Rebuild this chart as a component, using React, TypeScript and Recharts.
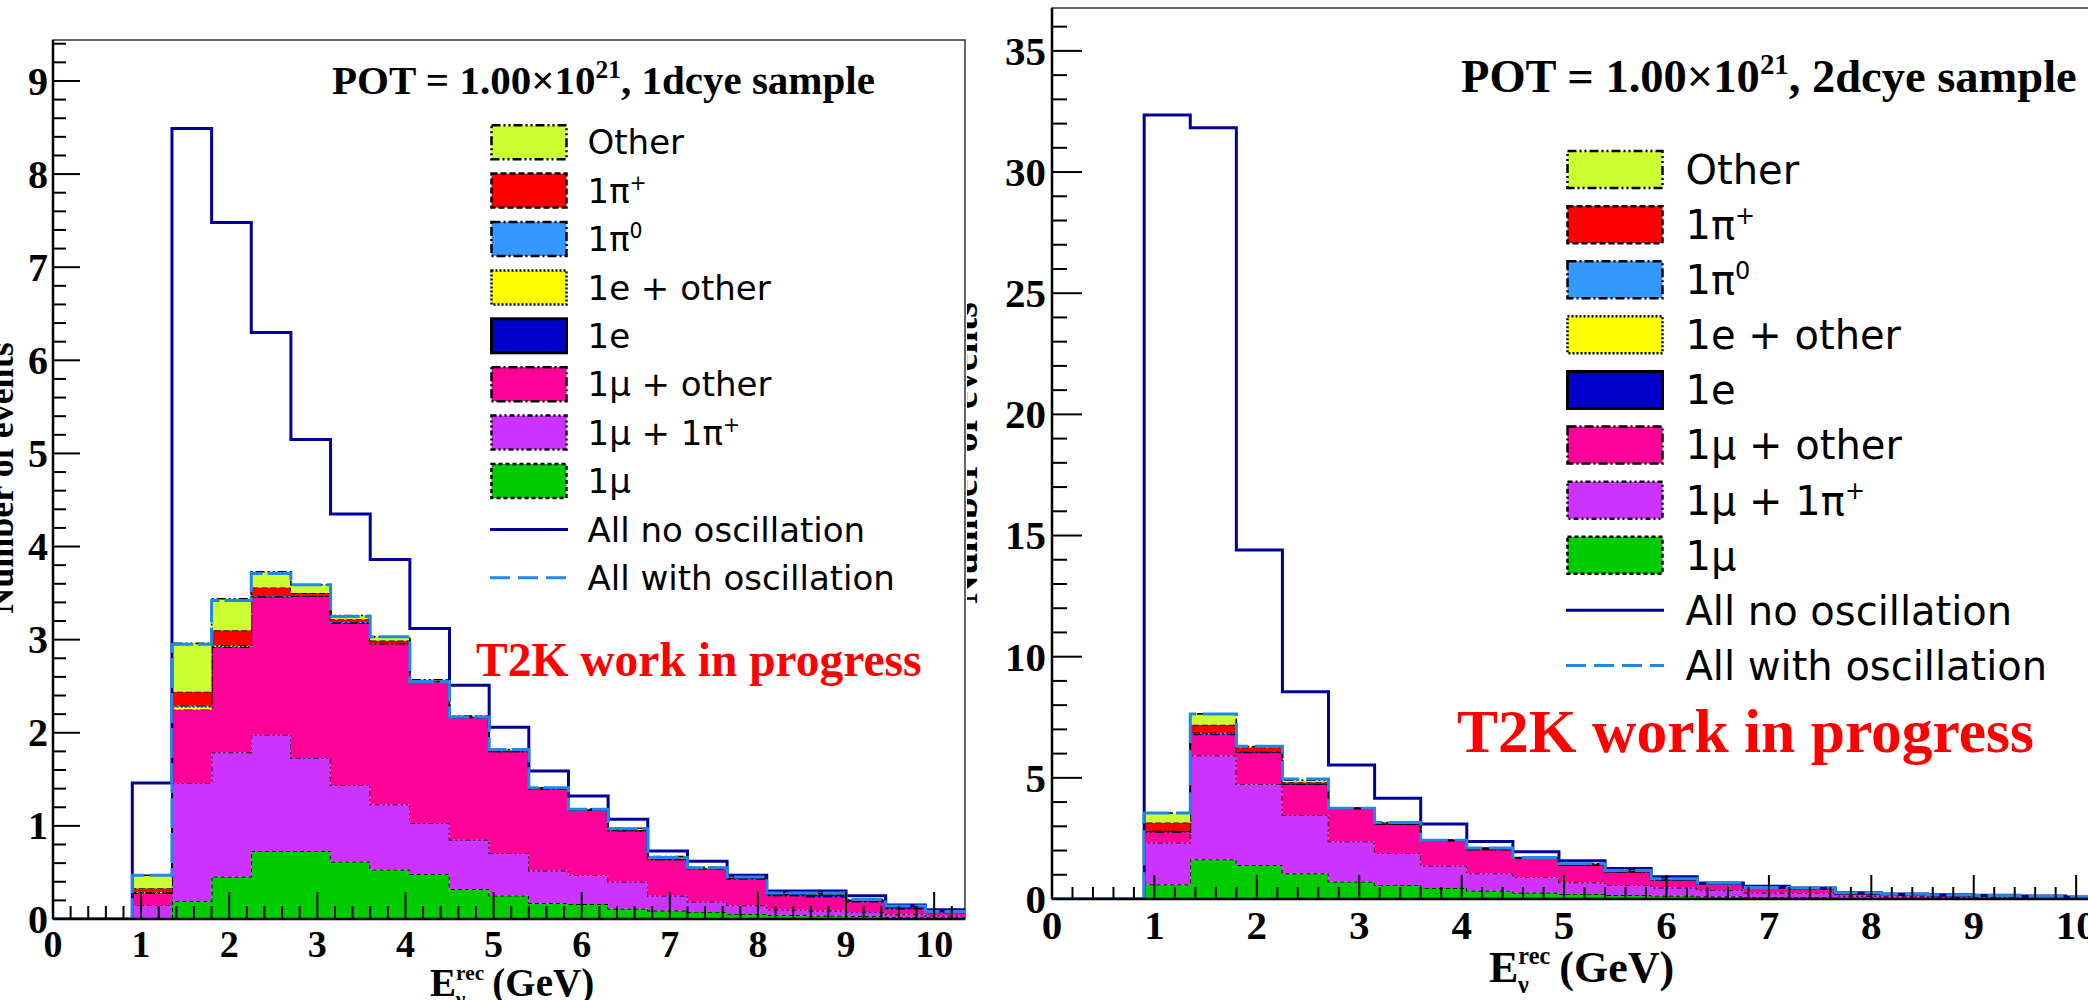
import React from "react";
import { ComposedChart, Area, Line, XAxis, YAxis, ReferenceArea, Legend } from "recharts";

// bin edges in GeV (0.45 GeV bins)
const binEdges = [0, 0.45, 0.9, 1.35, 1.8, 2.25, 2.7, 3.15, 3.6, 4.05, 4.5, 4.95, 5.4, 5.85, 6.3, 6.75, 7.2, 7.65, 8.1, 8.55, 9.0, 9.45, 9.9, 10.35];

// 1dcye sample (left)
const leftMu = [0, 0, 0.01, 0.19, 0.455, 0.73, 0.73, 0.615, 0.53, 0.48, 0.32, 0.25, 0.17, 0.16, 0.11, 0.09, 0.075, 0.055, 0.04, 0.035, 0.03, 0.02, 0.015];
const leftMu1Pip = [0, 0, 0.14, 1.27, 1.335, 1.25, 1.0, 0.825, 0.7, 0.55, 0.53, 0.46, 0.35, 0.31, 0.29, 0.16, 0.11, 0.09, 0.06, 0.055, 0.045, 0.03, 0.02];
const leftMuOther = [0, 0, 0.13, 0.79, 1.13, 1.48, 1.74, 1.74, 1.73, 1.52, 1.315, 1.09, 0.88, 0.7, 0.55, 0.39, 0.355, 0.285, 0.15, 0.15, 0.11, 0.06, 0.035];
const leftE = [0, 0, 0, 0, 0, 0, 0, 0, 0, 0, 0, 0, 0, 0, 0, 0, 0, 0.01, 0.02, 0.02, 0.015, 0.015, 0.01];
const leftEOther = [0, 0, 0.01, 0.03, 0.01, 0, 0, 0, 0, 0, 0, 0, 0, 0, 0, 0, 0, 0, 0, 0, 0, 0, 0];
const leftPi0 = [0, 0, 0, 0.01, 0.01, 0.01, 0, 0.01, 0, 0, 0, 0, 0, 0, 0, 0, 0, 0, 0, 0, 0, 0, 0];
const leftPip = [0, 0, 0.04, 0.15, 0.16, 0.09, 0.03, 0.03, 0.03, 0.01, 0.01, 0.01, 0.005, 0.005, 0.005, 0.01, 0.005, 0.005, 0.005, 0.005, 0.005, 0.005, 0.005];
const leftOther = [0, 0, 0.14, 0.52, 0.34, 0.17, 0.09, 0.04, 0.04, 0.01, 0.005, 0.01, 0.005, 0.005, 0.02, 0.02, 0.01, 0.01, 0.01, 0.01, 0.005, 0.005, 0.005];
const leftNoOsc = [0, 0, 1.46, 8.49, 7.48, 6.3, 5.15, 4.35, 3.86, 3.12, 2.51, 2.06, 1.59, 1.32, 1.07, 0.73, 0.62, 0.47, 0.3, 0.3, 0.25, 0.15, 0.1];
const leftOsc = [0, 0, 0.47, 2.95, 3.42, 3.71, 3.59, 3.25, 3.03, 2.55, 2.17, 1.82, 1.41, 1.18, 0.97, 0.66, 0.55, 0.45, 0.28, 0.28, 0.21, 0.14, 0.08];

// 2dcye sample (right)
const rightMu = [0, 0, 0.6, 1.63, 1.39, 1.05, 0.71, 0.58, 0.45, 0.34, 0.26, 0.21, 0.16, 0.13, 0.1, 0.08, 0.08, 0.05, 0.04, 0.03, 0.03, 0.02, 0.015];
const rightMu1Pip = [0, 0, 1.72, 4.29, 3.35, 2.42, 1.66, 1.32, 0.92, 0.71, 0.64, 0.47, 0.42, 0.34, 0.27, 0.18, 0.16, 0.08, 0.06, 0.05, 0.04, 0.03, 0.025];
const rightMuOther = [0, 0, 0.44, 0.87, 1.31, 1.27, 1.37, 1.2, 1.05, 1.0, 0.78, 0.72, 0.55, 0.32, 0.26, 0.21, 0.18, 0.09, 0.07, 0.06, 0.05, 0.03, 0.02];
const rightE = [0, 0, 0.05, 0.04, 0.02, 0.02, 0, 0, 0, 0, 0, 0, 0, 0, 0, 0, 0, 0, 0, 0, 0, 0, 0];
const rightEOther = [0, 0, 0.01, 0.02, 0.01, 0, 0, 0, 0, 0, 0, 0, 0, 0, 0, 0, 0, 0, 0, 0, 0, 0, 0];
const rightPi0 = [0, 0, 0, 0.01, 0, 0, 0, 0, 0, 0, 0, 0, 0, 0, 0, 0, 0, 0, 0, 0, 0, 0, 0];
const rightPip = [0, 0, 0.34, 0.33, 0.17, 0.06, 0, 0.03, 0, 0.03, 0.02, 0.03, 0.03, 0.03, 0.02, 0, 0.02, 0.02, 0.02, 0.02, 0.01, 0.01, 0.01];
const rightOther = [0, 0, 0.39, 0.45, 0.04, 0.08, 0, 0.03, 0, 0.02, 0.01, 0.02, 0.02, 0.02, 0.01, 0, 0.01, 0.02, 0.01, 0.01, 0.01, 0.01, 0];
const rightNoOsc = [0, 0, 32.35, 31.83, 14.4, 8.55, 5.53, 4.16, 3.1, 2.37, 1.95, 1.58, 1.26, 0.92, 0.66, 0.53, 0.45, 0.26, 0.21, 0.18, 0.15, 0.12, 0.08];
const rightOsc = [0, 0, 3.55, 7.63, 6.3, 4.95, 3.74, 3.16, 2.42, 2.1, 1.71, 1.45, 1.18, 0.84, 0.66, 0.47, 0.45, 0.26, 0.2, 0.17, 0.14, 0.1, 0.07];

const xLabels = [0, 1, 2, 3, 4, 5, 6, 7, 8, 9, 10];
const leftYLabels = [0, 1, 2, 3, 4, 5, 6, 7, 8, 9];
const rightYLabels = [0, 5, 10, 15, 20, 25, 30, 35];

const SERIF = "'Liberation Serif', 'Times New Roman', serif";
const SANS = "'DejaVu Sans', sans-serif";
const NAVY = "#00009a";
const LIGHTBLUE = "#1e87e8";
const X_MAX = 10.35;

// stack order: bottom first
const stack = [
  { key: "mu", label: "1μ", fill: "#00cc00", dash: "4 3" },
  { key: "mu1pip", label: "1μ + 1π", sup: "+", fill: "#cc33ff", dash: "5 3 2 3 2 3" },
  { key: "muOther", label: "1μ + other", fill: "#ff0099", dash: "9 3 2 3" },
  { key: "e", label: "1e", fill: "#0000cc", dash: "" },
  { key: "eOther", label: "1e + other", fill: "#ffff00", dash: "2 2" },
  { key: "pi0", label: "1π", sup: "0", fill: "#3399ff", dash: "9 3 2 3" },
  { key: "pip", label: "1π", sup: "+", fill: "#ff0000", dash: "6 3" },
  { key: "other", label: "Other", fill: "#ccff33", dash: "9 3 2 3 2 3" },
];

const steps = (max: number, step: number) => {
  const out: number[] = [];
  for (let v = 0; v <= max + 1e-9; v += step) out.push(Math.round(v * 100) / 100);
  return out;
};

const buildRows = (series: Record<string, number[]>) =>
  binEdges.map((x, i) => {
    const row: Record<string, number> = { x };
    Object.keys(series).forEach((k) => {
      row[k] = series[k][Math.min(i, series[k].length - 1)];
    });
    return row;
  });

const leftRows = buildRows({
  mu: leftMu, mu1pip: leftMu1Pip, muOther: leftMuOther, e: leftE, eOther: leftEOther,
  pi0: leftPi0, pip: leftPip, other: leftOther, noOsc: leftNoOsc, osc: leftOsc,
});
const rightRows = buildRows({
  mu: rightMu, mu1pip: rightMu1Pip, muOther: rightMuOther, e: rightE, eOther: rightEOther,
  pi0: rightPi0, pip: rightPip, other: rightOther, noOsc: rightNoOsc, osc: rightOsc,
});

type Cfg = {
  left: number; width: number; chartWidth: number; z: number;
  plotLeft: number; plotTop: number; plotBottom: number; rightMargin: number;
  yMax: number; yLabels: number[]; yTicks: number[];
  rows: Record<string, number>[];
  yMaj: number; yMin: number; xMaj: number; xMin: number;
  yTickFont: number; xTickFont: number; xLabelDy: number; yLabelGap: number;
  oscDash: string;
  sample: string; titleX: number; titleY: number; titleFont: number;
  t2kX: number; t2kY: number; t2kFont: number;
  legX: number; legTop: number; boxW: number; boxH: number; legGap: number; legRow: number; legFont: number;
  xTitleX: number; xTitleY: number; xTitleFont: number;
  yTitleX: number; yTitleY: number; yTitleFont: number;
};

const leftCfg: Cfg = {
  left: 0, width: 967, chartWidth: 967, z: 2,
  plotLeft: 53, plotTop: 40, plotBottom: 919, rightMargin: 2,
  yMax: 9.44, yLabels: leftYLabels, yTicks: steps(9.4, 0.2), rows: leftRows,
  yMaj: 27, yMin: 13, xMaj: 27, xMin: 13,
  yTickFont: 40, xTickFont: 38, xLabelDy: 38, yLabelGap: 5,
  oscDash: "30 5",
  sample: "1dcye", titleX: 332, titleY: 94, titleFont: 41,
  t2kX: 476, t2kY: 676, t2kFont: 47.5,
  legX: 490, legTop: 118, boxW: 78, boxH: 34, legGap: 19.5, legRow: 48.4, legFont: 34,
  xTitleX: 430, xTitleY: 996, xTitleFont: 39,
  yTitleX: 13, yTitleY: 478, yTitleFont: 36,
};

const rightCfg: Cfg = {
  left: 967, width: 1121, chartWidth: 1150, z: 1,
  plotLeft: 85, plotTop: 8, plotBottom: 899, rightMargin: 5,
  yMax: 36.77, yLabels: rightYLabels, yTicks: steps(36, 1), rows: rightRows,
  yMaj: 30, yMin: 15, xMaj: 24, xMin: 12,
  yTickFont: 41, xTickFont: 41, xLabelDy: 40, yLabelGap: 6,
  oscDash: "35 7",
  sample: "2dcye", titleX: 494, titleY: 92, titleFont: 46.5,
  t2kX: 490, t2kY: 752, t2kFont: 61.5,
  legX: 599, legTop: 141.5, boxW: 98, boxH: 37, legGap: 21.5, legRow: 55.1, legFont: 40,
  xTitleX: 522, xTitleY: 982, xTitleFont: 44,
  yTitleX: 10, yTitleY: 453, yTitleFont: 40,
};

const isIn = (list: number[], v: number) => list.some((m) => Math.abs(m - v) < 1e-6);

const legendItems = [
  ...stack.slice().reverse(),
  { key: "noOsc", label: "All no oscillation", line: NAVY },
  { key: "osc", label: "All with oscillation", line: LIGHTBLUE, lineDash: "20 8" },
];

const LegendBox = ({ cfg }: { cfg: Cfg }) => {
  const fs = cfg.legFont;
  return (
    <svg width={cfg.boxW + cfg.legGap + 420} height={cfg.legRow * legendItems.length} style={{ overflow: "visible" }}>
      {legendItems.map((it: any, i) => {
        const cy = cfg.legRow / 2 + i * cfg.legRow;
        return (
          <g key={it.key}>
            {it.line ? (
              <line x1={0} x2={cfg.boxW} y1={cy} y2={cy} stroke={it.line} strokeWidth={3} strokeDasharray={it.lineDash} />
            ) : (
              <rect x={1.5} y={cy - cfg.boxH / 2} width={cfg.boxW - 3} height={cfg.boxH} fill={it.fill}
                stroke="#000" strokeWidth={it.key === "e" ? 3 : 2.5} strokeDasharray={it.dash || undefined} />
            )}
            <text x={cfg.boxW + cfg.legGap} y={cy + fs * 0.36} fontFamily={SANS} fontSize={fs} fill="#000">
              {it.label}
              {it.sup && <tspan dy={-fs * 0.38} fontSize={fs * 0.6}>{it.sup}</tspan>}
            </text>
          </g>
        );
      })}
    </svg>
  );
};

const Panel = ({ cfg }: { cfg: Cfg }) => {
  const xTicks = steps(10.2, 0.2);
  const XTick = (p: any) => {
    const v = p.payload.value;
    const major = isIn(xLabels, v);
    return (
      <g>
        <line x1={p.x} x2={p.x} y1={p.y} y2={p.y - (major ? cfg.xMaj : cfg.xMin)} stroke="#000" strokeWidth={2} />
        {major && (
          <text x={p.x} y={p.y + cfg.xLabelDy} textAnchor="middle" fontFamily={SERIF} fontWeight="bold" fontSize={cfg.xTickFont} fill="#000">
            {v}
          </text>
        )}
      </g>
    );
  };
  const YTick = (p: any) => {
    const v = p.payload.value;
    const major = isIn(cfg.yLabels, v);
    return (
      <g>
        <line x1={p.x} x2={p.x + (major ? cfg.yMaj : cfg.yMin)} y1={p.y} y2={p.y} stroke="#000" strokeWidth={2} />
        {major && (
          <text x={p.x - cfg.yLabelGap} y={p.y} dy="0.34em" textAnchor="end" fontFamily={SERIF} fontWeight="bold" fontSize={cfg.yTickFont} fill="#000">
            {v}
          </text>
        )}
      </g>
    );
  };
  const f = cfg.xTitleFont;
  const s = f * 0.55;
  const recW = s * 1.33;
  const nuW = s * 0.52;
  return (
    <div style={{ position: "absolute", left: cfg.left, top: 0, width: cfg.width, height: 1000, overflow: "hidden", background: "#fff", zIndex: cfg.z }}>
      <ComposedChart width={cfg.chartWidth} height={1000} data={cfg.rows}
        margin={{ top: cfg.plotTop, right: cfg.rightMargin, left: 0, bottom: 0 }}>
        <ReferenceArea x1={0} x2={X_MAX} y1={0} y2={cfg.yMax} fill="none" stroke="#333" strokeWidth={1.5} />
        {stack.map((st) => (
          <Area key={st.key} type="stepAfter" dataKey={st.key} stackId="mc" fill={st.fill} fillOpacity={1}
            stroke={st.key === "e" ? "none" : "#000"} strokeWidth={1.6} strokeDasharray={st.dash || undefined}
            dot={false} activeDot={false} isAnimationActive={false} />
        ))}
        <Line type="stepAfter" dataKey="noOsc" stroke={NAVY} strokeWidth={3} dot={false} activeDot={false} isAnimationActive={false} />
        <Line type="stepAfter" dataKey="osc" stroke={LIGHTBLUE} strokeWidth={3} strokeDasharray={cfg.oscDash} dot={false} activeDot={false} isAnimationActive={false} />
        <XAxis dataKey="x" type="number" domain={[0, X_MAX]} ticks={xTicks} interval={0} allowDataOverflow
          height={1000 - cfg.plotBottom} tickSize={0} tickMargin={0} tickLine={false}
          axisLine={{ stroke: "#000", strokeWidth: 2.5 }} tick={XTick} />
        <YAxis type="number" domain={[0, cfg.yMax]} ticks={cfg.yTicks} interval={0} allowDataOverflow
          width={cfg.plotLeft} tickSize={0} tickMargin={0} tickLine={false}
          axisLine={{ stroke: "#000", strokeWidth: 2.5 }} tick={YTick} />
        <Legend layout="horizontal" verticalAlign="middle" align="center"
          wrapperStyle={{ left: cfg.legX, top: cfg.legTop, width: cfg.boxW + cfg.legGap + 420, height: cfg.legRow * legendItems.length }}
          content={() => <LegendBox cfg={cfg} />} />
      </ComposedChart>
      <svg width={cfg.width} height={1000} style={{ position: "absolute", left: 0, top: 0, pointerEvents: "none" }}>
        <text x={cfg.titleX} y={cfg.titleY} fontFamily={SERIF} fontWeight="bold" fontSize={cfg.titleFont} fill="#000">
          POT = 1.00×10
          <tspan dy={-cfg.titleFont * 0.38} fontSize={cfg.titleFont * 0.62}>21</tspan>
          <tspan dy={cfg.titleFont * 0.38}>, {cfg.sample} sample</tspan>
        </text>
        <text x={cfg.t2kX} y={cfg.t2kY} fontFamily={SERIF} fontWeight="bold" fontSize={cfg.t2kFont} fill="#ff0000">
          T2K work in progress
        </text>
        <text x={cfg.xTitleX} y={cfg.xTitleY} fontFamily={SERIF} fontWeight="bold" fontSize={f} fill="#000">
          E
          <tspan fontSize={s} dy={-f * 0.4}>rec</tspan>
          <tspan fontSize={s} dx={-recW} dy={f * 0.66}>ν</tspan>
          <tspan dx={recW - nuW} dy={-f * 0.26}> (GeV)</tspan>
        </text>
        <text transform={`translate(${cfg.yTitleX},${cfg.yTitleY}) rotate(-90)`} textAnchor="middle"
          fontFamily={SERIF} fontWeight="bold" fontSize={cfg.yTitleFont} fill="#000">
          Number of events
        </text>
      </svg>
    </div>
  );
};

export default function App() {
  return (
    <div style={{ position: "absolute", left: 0, top: 0, width: 2088, height: 1000, overflow: "hidden", background: "#fff" }}>
      <Panel cfg={rightCfg} />
      <Panel cfg={leftCfg} />
    </div>
  );
}
